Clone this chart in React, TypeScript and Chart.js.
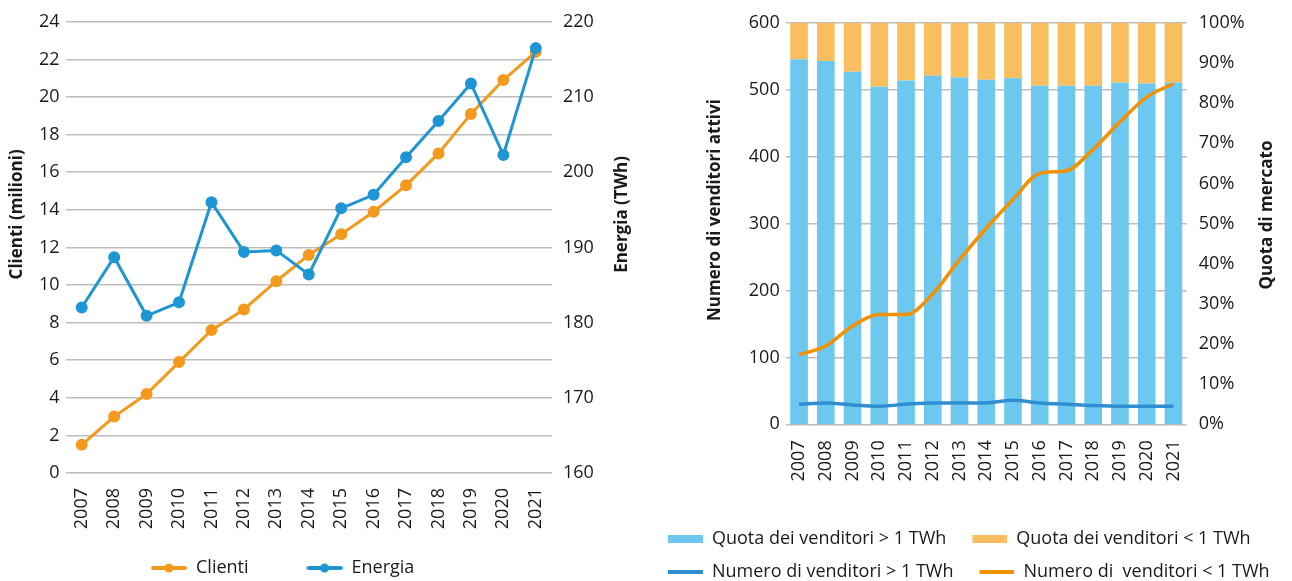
import React, { useEffect, useRef } from 'react';
import { Chart, registerables } from 'chart.js';

Chart.register(...registerables);

// ---------- data ----------
const years = ['2007', '2008', '2009', '2010', '2011', '2012', '2013', '2014', '2015', '2016', '2017', '2018', '2019', '2020', '2021'];

// left chart
const clienti = [1.5, 3.0, 4.2, 5.9, 7.6, 8.7, 10.2, 11.6, 12.7, 13.9, 15.3, 17.0, 19.1, 20.9, 22.4];
const energia = [182.0, 188.7, 180.9, 182.7, 196.0, 189.4, 189.6, 186.4, 195.2, 197.0, 202.0, 206.8, 211.8, 202.3, 216.5];

// right chart
const quotaSopra = [90.9, 90.5, 87.8, 84.1, 85.6, 86.8, 86.4, 85.8, 86.2, 84.3, 84.3, 84.3, 85.1, 84.9, 85.1];
const quotaSotto = [9.1, 9.5, 12.2, 15.9, 14.4, 13.2, 13.6, 14.2, 13.8, 15.7, 15.7, 15.7, 14.9, 15.1, 14.9];
const numeroSopra = [30, 32, 29, 27, 30, 32, 32, 32, 36, 32, 30, 28, 27, 27, 27];
const numeroSotto = [104, 117, 147, 164, 164, 195, 246, 293, 336, 375, 379, 411, 452, 489, 509];

const labelsLeft = ['Clienti', 'Energia'];
const labelsRight = [
  'Quota dei venditori > 1 TWh',
  'Quota dei venditori < 1 TWh',
  'Numero di venditori > 1 TWh',
  'Numero di  venditori < 1 TWh',
];
const titlesLeft = ['Clienti (milioni)', 'Energia (TWh)'];
const titlesRight = ['Numero di venditori attivi', 'Quota di mercato'];

// ---------- styles ----------
const FONT = "'Open Sans', sans-serif";
const TEXT = '#1a1a1a';
const GRID = '#bdbdbd';
const ORANGE = '#F39A1E';
const BLUE = '#1F96D4';
const BAR_BLUE = '#6DC8F0';
const BAR_ORANGE = '#F9BF5E';
const LINE_BLUE = '#2E8ECF';
const LINE_ORANGE = '#F39200';

// legend icon: transparent lead-in space, then a line with a dot
function lineDotIcon(color: string, lead: number) {
  const c = document.createElement('canvas');
  c.width = lead + 36;
  c.height = 10;
  const ctx = c.getContext('2d')!;
  ctx.strokeStyle = color;
  ctx.lineWidth = 4;
  ctx.lineCap = 'round';
  ctx.beginPath();
  ctx.moveTo(lead + 2, 5);
  ctx.lineTo(lead + 34, 5);
  ctx.stroke();
  ctx.fillStyle = color;
  ctx.beginPath();
  ctx.arc(lead + 18, 5, 4.5, 0, Math.PI * 2);
  ctx.fill();
  return c;
}

function rectIcon(color: string, h: number, lead: number) {
  const c = document.createElement('canvas');
  c.width = lead + 35;
  c.height = h;
  const ctx = c.getContext('2d')!;
  ctx.fillStyle = color;
  ctx.fillRect(lead, 0, 35, h);
  return c;
}

const axisTitlePlugin = {
  id: 'rotTitles',
  afterDraw(chart: any, _a: any, opts: any) {
    const items = opts.items || [];
    const ctx = chart.ctx;
    const ca = chart.chartArea;
    for (let i = 0; i < items.length; i++) {
      const it = items[i];
      const s = chart.scales[it.axis];
      const x = it.side === 'left' ? s.left + it.offset : s.right - it.offset;
      const y = (ca.top + ca.bottom) / 2 + it.dy;
      ctx.save();
      ctx.translate(x, y);
      ctx.rotate(-Math.PI / 2);
      ctx.font = `bold 17px ${FONT}`;
      ctx.fillStyle = TEXT;
      ctx.textAlign = 'center';
      ctx.textBaseline = 'middle';
      ctx.fillText(it.text, 0, 0);
      ctx.restore();
    }
  },
};

const legendShiftPlugin = {
  id: 'legendShift',
  afterLayout(chart: any, _a: any, opts: any) {
    const lg = chart.legend;
    if (lg && opts && opts.dx) {
      lg.left += opts.dx;
      lg.right += opts.dx;
    }
  },
};

export default function App() {
  const leftRef = useRef<HTMLCanvasElement>(null);
  const rightRef = useRef<HTMLCanvasElement>(null);

  useEffect(() => {
    Chart.defaults.font.family = FONT;
    Chart.defaults.color = TEXT;

    const LEAD_L = 48;
    const LEAD_R = 11;
    const leftIcons = [lineDotIcon(ORANGE, LEAD_L), lineDotIcon(BLUE, LEAD_L)];
    const rightIcons = [
      rectIcon(BAR_BLUE, 8, LEAD_R),
      rectIcon(BAR_ORANGE, 8, LEAD_R),
      rectIcon(LINE_BLUE, 4, LEAD_R),
      rectIcon(LINE_ORANGE, 4, LEAD_R),
    ];

    const tickFont = { family: FONT, size: 18 };

    const left = new Chart(leftRef.current!, {
      type: 'line',
      data: {
        labels: years,
        datasets: [
          {
            label: labelsLeft[0],
            data: clienti,
            yAxisID: 'y',
            borderColor: ORANGE,
            backgroundColor: ORANGE,
            pointBackgroundColor: ORANGE,
            pointBorderColor: ORANGE,
            borderWidth: 3,
            pointRadius: 4.5,
            tension: 0,
            order: 2,
          },
          {
            label: labelsLeft[1],
            data: energia,
            yAxisID: 'y1',
            borderColor: BLUE,
            backgroundColor: BLUE,
            pointBackgroundColor: BLUE,
            pointBorderColor: BLUE,
            borderWidth: 3,
            pointRadius: 4.5,
            tension: 0,
            order: 1,
          },
        ],
      },
      options: {
        responsive: false,
        animation: false,
        layout: { padding: { top: 21, left: 0, right: 0, bottom: -6 } },
        scales: {
          x: {
            offset: true,
            grid: { display: false, drawTicks: false },
            border: { display: false },
            ticks: { font: tickFont, color: TEXT, minRotation: 90, maxRotation: 90, padding: 15, autoSkip: false },
            afterFit: (s: any) => { s.height = 76; },
          },
          y: {
            position: 'left',
            min: 0,
            max: 24,
            ticks: { stepSize: 2, font: tickFont, color: TEXT, padding: 6 },
            grid: { color: GRID, lineWidth: 1.5, drawTicks: false },
            border: { display: false },
            afterFit: (s: any) => { s.width = 65.5; },
          },
          y1: {
            position: 'right',
            min: 160,
            max: 220,
            ticks: { stepSize: 10, font: tickFont, color: TEXT, padding: 11 },
            grid: { display: false, drawTicks: false },
            border: { display: false },
            afterFit: (s: any) => { s.width = 93; },
          },
        },
        plugins: {
          tooltip: { enabled: false },
          legend: {
            position: 'bottom',
            align: 'start',
            labels: {
              usePointStyle: true,
              pointStyleWidth: LEAD_L + 36,
              padding: 10,
              font: { family: FONT, size: 18 },
              color: TEXT,
              generateLabels: (chart: any) =>
                chart.data.datasets.map((ds: any, i: number) => ({
                  text: ds.label,
                  fillStyle: ds.borderColor,
                  strokeStyle: ds.borderColor,
                  lineWidth: 0,
                  hidden: false,
                  datasetIndex: i,
                  pointStyle: leftIcons[i],
                  fontColor: TEXT,
                })),
            },
          },
          rotTitles: {
            items: [
              { axis: 'y', side: 'left', offset: 17, dy: -33, text: titlesLeft[0] },
              { axis: 'y1', side: 'right', offset: 23, dy: -33, text: titlesLeft[1] },
            ],
          },
          legendShift: { dx: 93 },
        } as any,
      },
      plugins: [axisTitlePlugin, legendShiftPlugin],
    } as any);

    const right = new Chart(rightRef.current!, {
      type: 'bar',
      data: {
        labels: years,
        datasets: [
          {
            type: 'bar',
            label: labelsRight[0],
            data: quotaSopra,
            yAxisID: 'yPct',
            backgroundColor: BAR_BLUE,
            borderWidth: 0,
            categoryPercentage: 1,
            barPercentage: 0.66,
            order: 2,
          },
          {
            type: 'bar',
            label: labelsRight[1],
            data: quotaSotto,
            yAxisID: 'yPct',
            backgroundColor: BAR_ORANGE,
            borderWidth: 0,
            categoryPercentage: 1,
            barPercentage: 0.66,
            order: 2,
          },
          {
            type: 'line',
            label: labelsRight[2],
            data: numeroSopra,
            yAxisID: 'yNum',
            borderColor: LINE_BLUE,
            backgroundColor: LINE_BLUE,
            borderWidth: 3.5,
            pointRadius: 0,
            cubicInterpolationMode: 'monotone',
            order: 1,
          },
          {
            type: 'line',
            label: labelsRight[3],
            data: numeroSotto,
            yAxisID: 'yNum',
            borderColor: LINE_ORANGE,
            backgroundColor: LINE_ORANGE,
            borderWidth: 3.5,
            pointRadius: 0,
            cubicInterpolationMode: 'monotone',
            order: 1,
          },
        ],
      },
      options: {
        responsive: false,
        animation: false,
        layout: { padding: { top: 22.7, left: 0, right: 0, bottom: -9.7 } },
        scales: {
          x: {
            stacked: true,
            offset: true,
            grid: { display: false, drawTicks: false },
            border: { display: false },
            ticks: { font: tickFont, color: TEXT, minRotation: 90, maxRotation: 90, padding: 16, autoSkip: false },
            afterFit: (s: any) => { s.height = 90.4; },
          },
          yNum: {
            position: 'left',
            min: 0,
            max: 600,
            ticks: { stepSize: 100, font: tickFont, color: TEXT, padding: 6 },
            grid: { color: GRID, lineWidth: 1.5, drawTicks: false },
            border: { display: false },
            afterFit: (s: any) => { s.width = 140.7; },
          },
          yPct: {
            position: 'right',
            stacked: true,
            min: 0,
            max: 100,
            ticks: { stepSize: 10, font: tickFont, color: TEXT, padding: 12, callback: (v: any) => v + '%' },
            grid: { display: false, drawTicks: false },
            border: { display: false },
            afterFit: (s: any) => { s.width = 105.2; },
          },
        },
        plugins: {
          tooltip: { enabled: false },
          legend: {
            position: 'bottom',
            align: 'start',
            labels: {
              usePointStyle: true,
              pointStyleWidth: LEAD_R + 35,
              padding: 15,
              font: { family: FONT, size: 18 },
              color: TEXT,
              generateLabels: (chart: any) =>
                chart.data.datasets.map((ds: any, i: number) => ({
                  text: ds.label,
                  fillStyle: ds.backgroundColor,
                  strokeStyle: ds.backgroundColor,
                  lineWidth: 0,
                  hidden: false,
                  datasetIndex: i,
                  pointStyle: rightIcons[i],
                  fontColor: TEXT,
                })),
            },
          },
          rotTitles: {
            items: [
              { axis: 'yNum', side: 'left', offset: 70, dy: -13.5, text: titlesRight[0] },
              { axis: 'yPct', side: 'right', offset: 25, dy: -8.5, text: titlesRight[1] },
            ],
          },
          legendShift: { dx: -3 },
        } as any,
      },
      plugins: [axisTitlePlugin, legendShiftPlugin],
    } as any);

    return () => {
      left.destroy();
      right.destroy();
    };
  }, []);

  return (
    <div style={{ position: 'absolute', left: 0, top: 0, width: 1292, height: 581, overflow: 'hidden', background: '#ffffff' }}>
      <canvas ref={leftRef} width={645} height={581} style={{ position: 'absolute', left: 0, top: 0 }} />
      <canvas ref={rightRef} width={647} height={581} style={{ position: 'absolute', left: 645, top: 0 }} />
    </div>
  );
}
